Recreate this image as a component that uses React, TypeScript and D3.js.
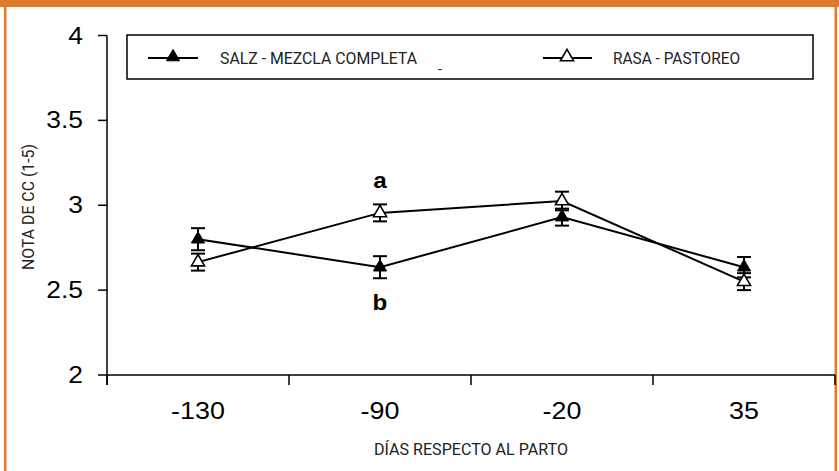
import React from "react";
import * as d3 from "d3";

const categories = ["-130", "-90", "-20", "35"];
const salzValues = [2.8, 2.635, 2.93, 2.635];
const salzErrors = [0.065, 0.065, 0.05, 0.06];
const rasaValues = [2.665, 2.955, 3.025, 2.55];
const rasaErrors = [0.05, 0.05, 0.055, 0.05];
const yTicks = [2, 2.5, 3, 3.5, 4];
const seriesNames = ["SALZ - MEZCLA COMPLETA", "RASA - PASTOREO"];
const sigLabels = [
  { cat: "-90", value: 3.15, text: "a" },
  { cat: "-90", value: 2.43, text: "b" },
];

const W = 839;
const H = 471;
const ORANGE = "#DF7A2F";
const COND = "Roboto, 'DejaVu Sans', sans-serif";
const NUM = "'Liberation Sans', Arial, sans-serif";

export default function App() {
  const x = d3.scaleBand<string>().domain(categories).range([107, 835]).padding(0);
  const y = d3.scaleLinear().domain([2, 4]).range([375, 35.5]);
  const cx = (c: string) => (x(c) as number) + x.bandwidth() / 2;
  const tri = d3.symbol().type(d3.symbolTriangle).size(75)() as string;
  const line = d3
    .line<number>()
    .x((_, i) => cx(categories[i]))
    .y((d) => y(d));

  const series = [
    { values: salzValues, errors: salzErrors, filled: true },
    { values: rasaValues, errors: rasaErrors, filled: false },
  ];

  const boundaries = [...categories.map((c) => x(c) as number), 835];

  return (
    <div style={{ position: "absolute", left: 0, top: 0 }}>
      <svg width={W} height={H} style={{ display: "block", background: "#fff" }}>
        {/* orange frame */}
        <rect x={0} y={0} width={W} height={7} fill={ORANGE} />
        <rect x={4} y={0} width={2.5} height={H} fill={ORANGE} />
        <rect x={834.5} y={0} width={2.5} height={H} fill={ORANGE} />

        {/* y axis */}
        <line x1={107} x2={107} y1={y(4)} y2={385} stroke="#000" strokeWidth={1.5} />
        {yTicks.map((t) => (
          <g key={t}>
            <line x1={98} x2={107} y1={y(t)} y2={y(t)} stroke="#000" strokeWidth={1.5} />
            <g transform={`translate(83,${y(t) + 8}) scale(1.15,1)`}>
              <text textAnchor="end" fontFamily={NUM} fontSize={23} fill="#000">
                {String(t)}
              </text>
            </g>
          </g>
        ))}

        {/* x axis */}
        <line x1={107} x2={835} y1={375} y2={375} stroke="#000" strokeWidth={1.5} />
        {boundaries.map((b, i) => (
          <line key={i} x1={b} x2={b} y1={375} y2={385} stroke="#000" strokeWidth={1.5} />
        ))}
        {categories.map((c) => (
          <g key={c} transform={`translate(${cx(c)},419) scale(1.12,1)`}>
            <text textAnchor="middle" fontFamily={NUM} fontSize={24} fill="#000">
              {c}
            </text>
          </g>
        ))}

        {/* axis titles */}
        <text
          x={(107 + 835) / 2}
          y={455}
          textAnchor="middle"
          fontFamily={COND}
          fontSize={17}
          textLength={194}
          lengthAdjust="spacingAndGlyphs"
          fill="#222"
        >
          DÍAS RESPECTO AL PARTO
        </text>
        <text
          transform={`translate(34,207) rotate(-90)`}
          textAnchor="middle"
          fontFamily={COND}
          fontSize={17}
          textLength={126}
          lengthAdjust="spacingAndGlyphs"
          fill="#222"
        >
          NOTA DE CC (1-5)
        </text>

        {/* legend */}
        <rect x={127} y={35} width={686} height={44} fill="#fff" stroke="#000" strokeWidth={1.5} />
        <line x1={148} x2={198} y1={58} y2={58} stroke="#000" strokeWidth={2} />
        <path d={tri} transform="translate(173,57)" fill="#000" stroke="#000" strokeWidth={1} />
        <text
          x={220}
          y={64}
          fontFamily={COND}
          fontSize={17}
          textLength={197}
          lengthAdjust="spacingAndGlyphs"
          fill="#222"
        >
          {seriesNames[0]}
        </text>
        <text x={438} y={74} fontFamily={COND} fontSize={14} fill="#222">
          -
        </text>
        <line x1={543} x2={592} y1={58} y2={58} stroke="#000" strokeWidth={2} />
        <path d={tri} transform="translate(567,57)" fill="#fff" stroke="#000" strokeWidth={1.6} />
        <text
          x={613}
          y={64}
          fontFamily={COND}
          fontSize={17}
          textLength={127}
          lengthAdjust="spacingAndGlyphs"
          fill="#222"
        >
          {seriesNames[1]}
        </text>

        {/* series */}
        {series.map((s, si) => (
          <g key={si}>
            <path d={line(s.values) as string} fill="none" stroke="#000" strokeWidth={2} />
            {s.values.map((v, i) => {
              const px = cx(categories[i]);
              const top = y(v + s.errors[i]);
              const bot = y(v - s.errors[i]);
              return (
                <g key={i}>
                  <line x1={px} x2={px} y1={top} y2={bot} stroke="#000" strokeWidth={2} />
                  <line x1={px - 7} x2={px + 7} y1={top} y2={top} stroke="#000" strokeWidth={2} />
                  <line x1={px - 7} x2={px + 7} y1={bot} y2={bot} stroke="#000" strokeWidth={2} />
                  <path
                    d={tri}
                    transform={`translate(${px},${y(v)})`}
                    fill={s.filled ? "#000" : "#fff"}
                    stroke="#000"
                    strokeWidth={s.filled ? 1 : 1.6}
                  />
                </g>
              );
            })}
          </g>
        ))}

        {/* significance letters */}
        {sigLabels.map((l, i) => (
          <g key={i} transform={`translate(${cx(l.cat)},${y(l.value) + 8}) scale(1.1,1)`}>
            <text textAnchor="middle" fontFamily={NUM} fontWeight="bold" fontSize={22} fill="#000">
              {l.text}
            </text>
          </g>
        ))}
      </svg>
    </div>
  );
}
